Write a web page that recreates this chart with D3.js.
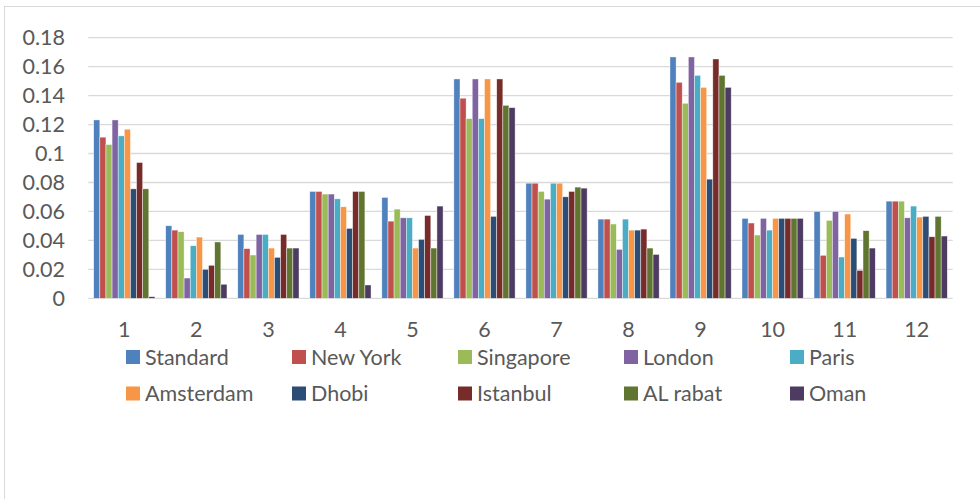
<!DOCTYPE html>
<html>
<head>
<meta charset="utf-8">
<script src="https://cdn.jsdelivr.net/npm/d3@7"></script>
<style>
  html, body { margin: 0; padding: 0; background: #fff; }
  svg { display: block; }
  text { font-family: Lato, "Open Sans", sans-serif; fill: #595959; }
</style>
</head>
<body>
<svg id="chart" width="980" height="499"></svg>
<script>
// Months / groups along the x axis
const categories = ["1", "2", "3", "4", "5", "6", "7", "8", "9", "10", "11", "12"];

// One value per group for each city series
const seriesNames = ["Standard", "New York", "Singapore", "London", "Paris",
                     "Amsterdam", "Dhobi", "Istanbul", "AL rabat", "Oman"];
const standard  = [0.1232, 0.0501, 0.0441, 0.0738, 0.0697, 0.1515, 0.0795, 0.0547, 0.1667, 0.0552, 0.0600, 0.0671];
const newYork   = [0.1113, 0.0471, 0.0343, 0.0738, 0.0533, 0.1382, 0.0795, 0.0547, 0.1492, 0.0520, 0.0297, 0.0671];
const singapore = [0.1062, 0.0460, 0.0299, 0.0720, 0.0616, 0.1241, 0.0738, 0.0513, 0.1347, 0.0437, 0.0538, 0.0671];
const london    = [0.1232, 0.0140, 0.0441, 0.0720, 0.0556, 0.1515, 0.0685, 0.0338, 0.1667, 0.0552, 0.0600, 0.0556];
const paris     = [0.1122, 0.0363, 0.0441, 0.0687, 0.0556, 0.1241, 0.0795, 0.0547, 0.1540, 0.0471, 0.0285, 0.0637];
const amsterdam = [0.1168, 0.0423, 0.0347, 0.0632, 0.0347, 0.1515, 0.0795, 0.0471, 0.1457, 0.0552, 0.0582, 0.0561];
const dhobi     = [0.0756, 0.0200, 0.0283, 0.0483, 0.0407, 0.0566, 0.0701, 0.0471, 0.0823, 0.0552, 0.0414, 0.0566];
const istanbul  = [0.0938, 0.0228, 0.0441, 0.0738, 0.0572, 0.1515, 0.0738, 0.0478, 0.1653, 0.0552, 0.0193, 0.0425];
const alRabat   = [0.0756, 0.0389, 0.0347, 0.0738, 0.0347, 0.1333, 0.0768, 0.0347, 0.1540, 0.0552, 0.0467, 0.0566];
const oman      = [0.0011, 0.0097, 0.0347, 0.0092, 0.0637, 0.1317, 0.0761, 0.0303, 0.1457, 0.0552, 0.0347, 0.0430];

const yTicks = [0, 0.02, 0.04, 0.06, 0.08, 0.1, 0.12, 0.14, 0.16, 0.18];

const seriesValues = [standard, newYork, singapore, london, paris,
                      amsterdam, dhobi, istanbul, alRabat, oman];
const colors = ["#4F81BD", "#C0504D", "#9BBB59", "#8064A2", "#4BACC6",
                "#F79646", "#2C4D75", "#772C2A", "#5F7530", "#4D3B62"];

const svg = d3.select("#chart");

// Outer chart frame (left and top edges visible in the window)
svg.append("rect")
  .attr("x", 4.5).attr("y", 6.5)
  .attr("width", 1000).attr("height", 600)
  .attr("fill", "none")
  .attr("stroke", "#D9D9D9")
  .attr("stroke-width", 1);

const plot = { left: 88.3, right: 952.7, top: 37.7, bottom: 298.3 };

const x0 = d3.scaleBand()
  .domain(categories)
  .range([plot.left, plot.right])
  .paddingInner(0.15)
  .paddingOuter(0.075);

const x1 = d3.scaleBand()
  .domain(seriesNames)
  .range([0, x0.bandwidth()])
  .padding(0);

const y = d3.scaleLinear()
  .domain([0, 0.18])
  .range([plot.bottom, plot.top]);

// Horizontal gridlines
svg.append("g")
  .selectAll("line")
  .data(yTicks)
  .join("line")
  .attr("x1", plot.left).attr("x2", plot.right)
  .attr("y1", d => y(d)).attr("y2", d => y(d))
  .attr("stroke", "#D9D9D9")
  .attr("stroke-width", 1.3);

// Y axis labels
const yAxis = d3.axisLeft(y).tickValues(yTicks).tickSize(0).tickPadding(0)
  .tickFormat(d => d3.format("~g")(d));
svg.append("g")
  .attr("transform", `translate(65,0)`)
  .call(yAxis)
  .call(g => g.select(".domain").remove())
  .call(g => g.selectAll("text")
    .attr("font-family", "Lato, 'Open Sans', sans-serif")
    .attr("font-size", 21.5)
    .attr("fill", "#595959"));

// Grouped bars
const groups = svg.append("g")
  .selectAll("g")
  .data(categories)
  .join("g")
  .attr("transform", d => `translate(${x0(d)},0)`);

groups.selectAll("rect")
  .data((c, i) => seriesNames.map((s, k) => ({ s, k, v: seriesValues[k][i] })))
  .join("rect")
  .attr("x", d => x1(d.s))
  .attr("width", x1.bandwidth())
  .attr("y", d => y(d.v))
  .attr("height", d => y(0) - y(d.v))
  .attr("fill", d => colors[d.k])
  .attr("stroke", "#ffffff")
  .attr("stroke-width", 0.6)
  .attr("stroke-opacity", 0.7);

// X axis labels
const xAxis = d3.axisBottom(x0).tickSize(0).tickPadding(0);
svg.append("g")
  .attr("transform", `translate(0,${plot.bottom})`)
  .call(xAxis)
  .call(g => g.select(".domain").remove())
  .call(g => g.selectAll("text")
    .attr("dy", null)
    .attr("y", 38.5)
    .attr("font-family", "Lato, 'Open Sans', sans-serif")
    .attr("font-size", 21.5)
    .attr("fill", "#595959"));

// Legend: two rows of five entries
const legend = svg.append("g")
  .selectAll("g")
  .data(seriesNames)
  .join("g")
  .attr("transform", (d, i) => `translate(${126 + (i % 5) * 166},${350 + Math.floor(i / 5) * 36.5})`);

legend.append("rect")
  .attr("width", 14).attr("height", 14)
  .attr("fill", (d, i) => colors[i]);

legend.append("text")
  .attr("x", 19).attr("y", 14.5)
  .attr("font-size", 21.5)
  .text(d => d);
</script>
</body>
</html>
